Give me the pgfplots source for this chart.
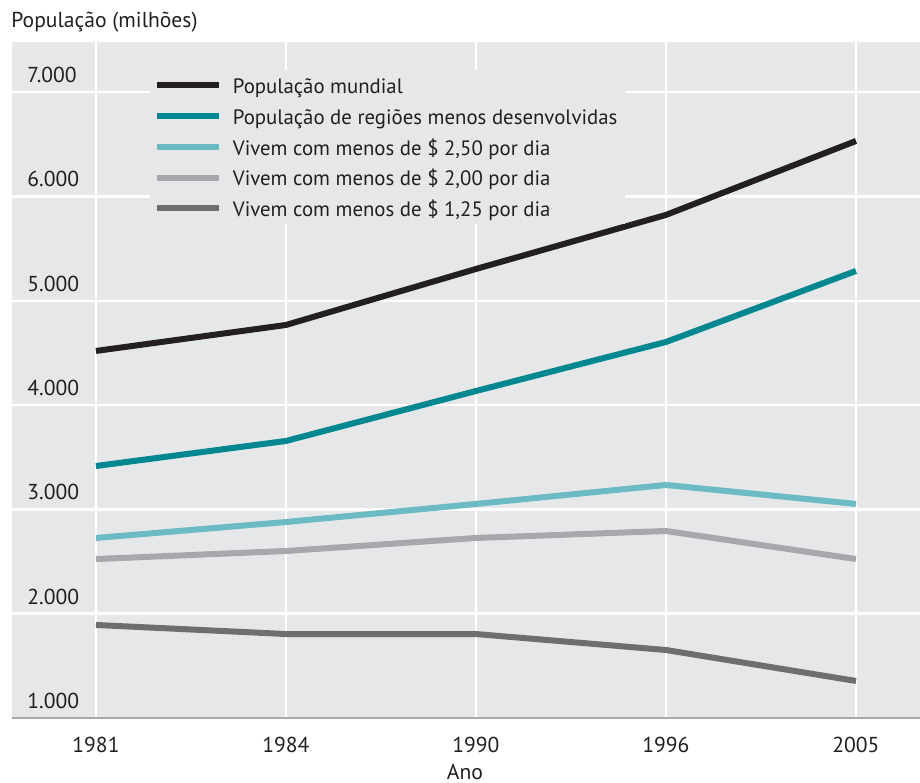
\documentclass[border=0pt]{standalone}
\usepackage{pgfplots}
\pgfplotsset{compat=1.18}
\usepackage{fontspec}
\setmainfont{PT Sans}
\definecolor{bgc}{HTML}{E6E7E8}
\definecolor{txt}{HTML}{231F20}
\definecolor{cBlack}{HTML}{231F20}
\definecolor{cTeal}{HTML}{00878F}
\definecolor{cLTeal}{HTML}{6CBAC4}
\definecolor{cLGrey}{HTML}{A6A8AB}
\definecolor{cDGrey}{HTML}{6D6E70}
\definecolor{axc}{HTML}{A7A9AC}
\begin{document}
\begin{tikzpicture}[font=\fontsize{10.8}{13}\selectfont, text=txt]
\begin{axis}[
  scale only axis,
  width=454pt, height=338pt,
  xmin=-0.442, xmax=4.337,
  ymin=1000, ymax=7481,
  xtick={0,1,2,3,4},
  xticklabels={1981,1984,1990,1996,2005},
  ytick={1000,2000,3000,4000,5000,6000,7000},
  yticklabels={1.000,2.000,3.000,4.000,5.000,6.000,7.000},
  major tick length=0pt,
  axis background/.style={fill=bgc},
  grid=major,
  major grid style={white, line width=1.25pt},
  separate axis lines,
  axis x line*=bottom,
  axis y line*=left,
  x axis line style={draw=axc, line width=1.2pt, -},
  y axis line style={draw=none},
  xticklabel style={anchor=base, yshift=-17pt, inner sep=0pt},
  yticklabel style={anchor=south west, xshift=7.5pt, yshift=4.5pt, inner sep=0pt},
  xlabel={Ano},
  xlabel style={at={(rel axis cs:0.4989,0)}, anchor=base, yshift=-30.5pt, inner sep=0pt},
  legend cell align=left,
  legend image code/.code={\draw[#1, line width=3pt] (0pt,0pt) -- (31pt,0pt);},
  legend style={at={(rel axis cs:0.1515,0.9596)}, anchor=north west, fill=bgc, draw=none,
    inner xsep=2pt, inner ysep=0pt, row sep=0pt,
    font=\fontsize{10.4}{13}\selectfont,
    nodes={inner sep=2pt, text height=9.9pt, text depth=1.5pt},
    /tikz/every odd column/.append style={column sep=3.5pt}},
  every axis plot/.append style={line width=3pt, line join=round, no marks},
]
\addplot[cBlack] coordinates {(0,4519) (1,4768) (2,5305) (3,5823) (4,6532)};
\addlegendentry{População mundial}
\addplot[cTeal] coordinates {(0,3416) (1,3656) (2,4135) (3,4605) (4,5286)};
\addlegendentry{População de regiões menos desenvolvidas}
\addplot[cLTeal] coordinates {(0,2726) (1,2879) (2,3052) (3,3234) (4,3052)};
\addlegendentry{Vivem com menos de \$ 2,50 por dia}
\addplot[cLGrey] coordinates {(0,2524) (1,2601) (2,2726) (3,2793) (4,2524)};
\addlegendentry{Vivem com menos de \$ 2,00 por dia}
\addplot[cDGrey] coordinates {(0,1892) (1,1805) (2,1805) (3,1652) (4,1355)};
\addlegendentry{Vivem com menos de \$ 1,25 por dia}
\end{axis}
\node[anchor=base west, inner sep=0pt] at (-0.5pt,345pt) {População (milhões)};
\pgfresetboundingbox
\path (-6pt,-32pt) rectangle (454pt,359pt);
\end{tikzpicture}
\end{document}
